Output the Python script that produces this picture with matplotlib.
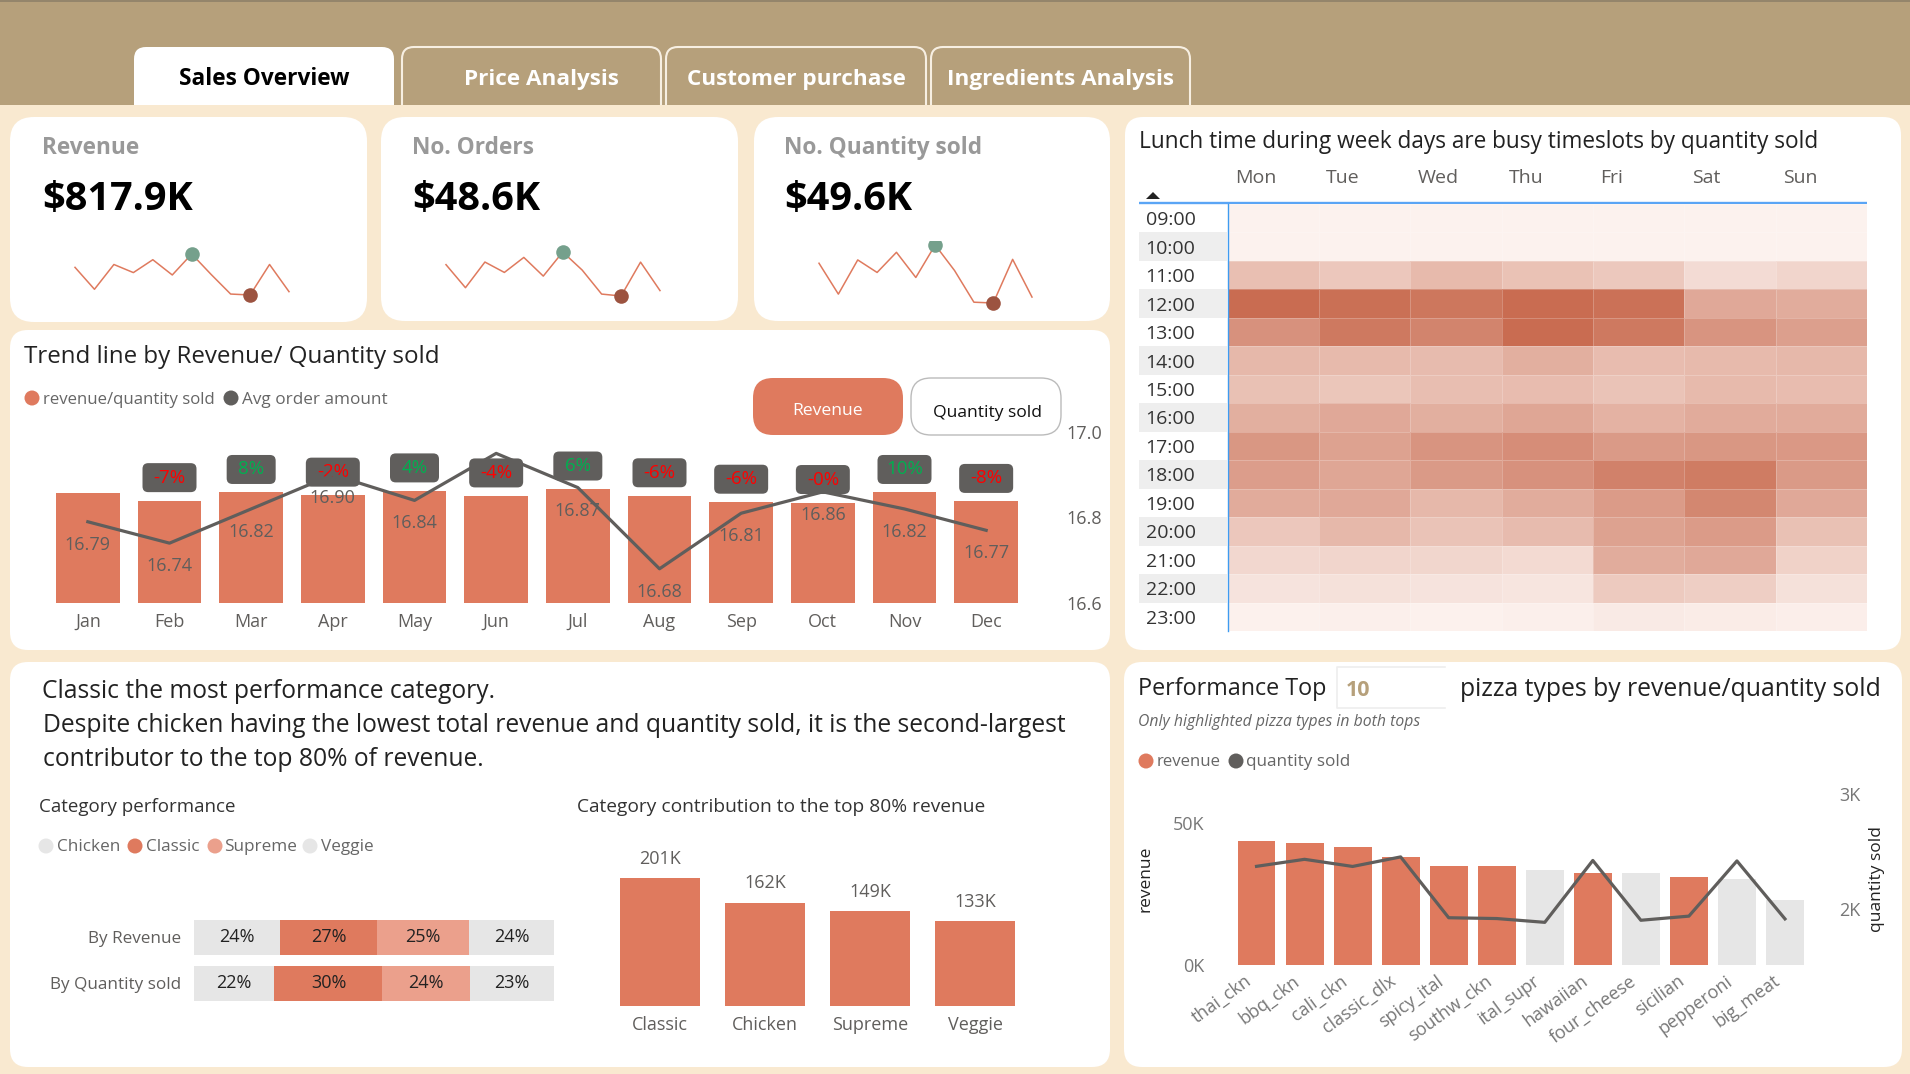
import matplotlib
matplotlib.use("Agg")
import matplotlib.pyplot as plt
from matplotlib.patches import FancyBboxPatch, Rectangle, Circle, Polygon
from matplotlib.colors import LinearSegmentedColormap
from matplotlib.transforms import Bbox, ScaledTranslation
import numpy as np

plt.rcParams['font.family'] = ['Open Sans', 'DejaVu Sans']

# ---------- data ----------
tabs = ["Sales Overview", "Price Analysis", "Customer purchase", "Ingredients Analysis"]
months = ["Jan", "Feb", "Mar", "Apr", "May", "Jun", "Jul", "Aug", "Sep", "Oct", "Nov", "Dec"]
revenue_k = [69.8, 65.2, 70.4, 68.7, 71.4, 68.2, 72.6, 68.3, 64.2, 64.0, 70.4, 64.7]
orders = [4156, 3892, 4186, 4067, 4239, 4025, 4301, 4094, 3819, 3797, 4185, 3859]
quantity = [4232, 3961, 4261, 4151, 4328, 4107, 4392, 4168, 3890, 3883, 4266, 3935]
avg_order = [16.79, 16.74, 16.82, 16.90, 16.84, 16.95, 16.87, 16.68, 16.81, 16.86, 16.82, 16.77]
avg_labels = ["16.79", "16.74", "16.82", "16.90", "16.84", "", "16.87", "16.68", "16.81", "16.86", "16.82", "16.77"]
changes = ["", "-7%", "8%", "-2%", "4%", "-4%", "6%", "-6%", "-6%", "-0%", "10%", "-8%"]

hours = ["09:00", "10:00", "11:00", "12:00", "13:00", "14:00", "15:00", "16:00",
         "17:00", "18:00", "19:00", "20:00", "21:00", "22:00", "23:00"]
days = ["Mon", "Tue", "Wed", "Thu", "Fri", "Sat", "Sun"]
heat = [
    [0, 0, 0, 0, 0, 0, 0],
    [0, 0, 0, 0, 0, 0, 0],
    [38, 32, 42, 36, 31, 17, 22],
    [100, 97, 92, 100, 96, 55, 52],
    [72, 90, 82, 100, 90, 70, 62],
    [43, 42, 41, 50, 40, 42, 43],
    [37, 33, 39, 40, 35, 42, 40],
    [50, 55, 50, 57, 48, 53, 53],
    [68, 60, 70, 75, 66, 68, 67],
    [63, 57, 66, 72, 84, 88, 66],
    [53, 55, 43, 52, 65, 80, 55],
    [32, 43, 35, 41, 60, 65, 37],
    [20, 22, 21, 18, 52, 55, 24],
    [11, 13, 11, 10, 30, 27, 13],
    [1, 2, 1, 2, 6, 5, 3],
]

stack_rows = ["By Revenue", "By Quantity sold"]
stack_cats = ["Chicken", "Classic", "Supreme", "Veggie"]
stack_revenue = [23.96, 26.91, 25.46, 23.67]
stack_quantity = [22.35, 30.0, 24.2, 23.45]

contrib_cats = ["Classic", "Chicken", "Supreme", "Veggie"]
contrib_vals = [201, 162, 149, 133]

pizza_types = ["thai_ckn", "bbq_ckn", "cali_ckn", "classic_dlx", "spicy_ital", "southw_ckn",
               "ital_supr", "hawaiian", "four_cheese", "sicilian", "pepperoni", "big_meat"]
pizza_revenue = [43.7, 42.8, 41.4, 38.2, 34.8, 34.7, 33.5, 32.3, 32.3, 30.9, 30.2, 23.0]
pizza_quantity = [2371, 2432, 2370, 2453, 1924, 1917, 1884, 2422, 1902, 1938, 2418, 1914]
pizza_highlight = [1, 1, 1, 1, 1, 1, 0, 1, 0, 1, 0, 0]

# ---------- style ----------
W, H = 1910, 1074
ORANGE = "#DF7A5E"
LIGHT_ORANGE = "#EBA08C"
GREY_BAR = "#E6E6E6"
DARK = "#605E5C"
CREAM = "#F9E9D0"
TAN = "#B6A07B"

fig = plt.figure(figsize=(W / 100, H / 100), dpi=100, facecolor=CREAM)
bg = fig.add_axes([0, 0, 1, 1])
bg.set_xlim(0, W)
bg.set_ylim(H, 0)
bg.axis("off")


def axpx(x0, y0, x1, y1):
    a = fig.add_axes([x0 / W, 1 - y1 / H, (x1 - x0) / W, (y1 - y0) / H])
    a.patch.set_alpha(0)
    for s in a.spines.values():
        s.set_visible(False)
    return a


def T(x, y, s, size=13, color=DARK, ha="left", va="center", **kw):
    return bg.text(x, y + 2, s, fontsize=size, color=color, ha=ha, va=va, **kw)


def box(x0, y0, x1, y1, r, fc="white", ec="none", lw=0):
    p = FancyBboxPatch((x0, y0), x1 - x0, y1 - y0, boxstyle=f"round,pad=0,rounding_size={r}",
                       fc=fc, ec=ec, lw=lw)
    bg.add_patch(p)
    return p


def dot(x, y, c, r=7.5):
    bg.add_patch(Circle((x, y), r, fc=c, ec="none"))


# ---------- header ----------
bg.add_patch(Rectangle((0, 0), W, 106, fc=TAN, ec="none"))
bg.add_patch(Rectangle((0, 0), W, 2, fc="#94856B", ec="none"))
tab_x = [(134, 394), (402, 661), (666, 926), (931, 1190)]
tab_text_x = [264, 541, 796, 1060]
for i, ((a, b), tx, name) in enumerate(zip(tab_x, tab_text_x, tabs)):
    if i == 0:
        box(a, 47, b, 130, 12, fc="white")
        T(tx, 77, name, size=16.3, color="black", ha="center", weight="bold")
    else:
        box(a, 47, b, 130, 12, fc="none", ec="#F7EFE2", lw=1.5)
        T(tx, 77, name, size=16.2, color="white", ha="center", weight="bold")
bg.add_patch(Rectangle((0, 105), W, H - 105, fc=CREAM, ec="none"))

# ---------- panels ----------
box(10, 117, 367, 322, 24)
box(381, 117, 738, 321, 24)
box(754, 117, 1110, 321, 24)
box(10, 330, 1110, 650, 18)
box(1125, 117, 1901, 650, 18)
box(10, 662, 1110, 1067, 18)
box(1124, 662, 1902, 1067, 18)

# ---------- KPI cards ----------
kpis = [("Revenue", "$817.9K", 42, revenue_k, (75, 254, 289, 295)),
        ("No. Orders", "$48.6K", 412, orders, (446, 252, 660, 296)),
        ("No. Quantity sold", "$49.6K", 784, quantity, (819, 245, 1032, 303))]
for label, value, tx, series, (x0, y0, x1, y1) in kpis:
    T(tx, 146, label, size=16.3, color="#999999", weight="bold")
    T(tx, 198, value, size=28.5, color="black", weight="bold")
    a = axpx(x0, y0, x1, y1)
    a.axis("off")
    a.set_xlim(0, 11)
    a.set_ylim(min(series), max(series))
    a.plot(range(12), series, color=ORANGE, lw=1.1, clip_on=False)
    hi, lo = int(np.argmax(series)), int(np.argmin(series))
    m1, = a.plot([hi], [series[hi]], "o", color="#75A08C", ms=10.5, mew=0, clip_on=True)
    m1.set_clip_box(Bbox([[0, 0], [W, H - 241]]))
    a.plot([lo], [series[lo]], "o", color="#9C5340", ms=10.5, mew=0, clip_on=False)

# ---------- trend ----------
T(24, 355, "Trend line by Revenue/ Quantity sold", size=17.35, color="#222222")
dot(32, 398, ORANGE)
T(43, 398, "revenue/quantity sold", size=12.1, color="#666666")
dot(231, 398, DARK)
T(242, 398, "Avg order amount", size=12.3, color="#666666")
box(753, 378, 903, 435, 20, fc=ORANGE)
T(828, 409, "Revenue", size=12.6, color="white", ha="center")
box(911, 378, 1061, 435, 20, fc="white", ec="#BBBBBB", lw=1.0)
T(987, 411, "Quantity sold", size=12.6, color="#111111", ha="center")

PX_PER_K = 1.57
ax = axpx(47, 432, 1027, 603)
ax.set_xlim(-0.5, 11.5)
ax.set_ylim(0, 171 / PX_PER_K)
ax.bar(range(12), revenue_k, width=0.78, color=ORANGE)
ax.set_xticks(range(12), months)
ax.set_yticks([])
ax.tick_params(axis="x", length=0, pad=7, labelsize=13, labelcolor=DARK)
for i, ch in enumerate(changes):
    if not ch:
        continue
    w = {2: 49, 3: 54, 4: 58}[len(ch)] / 81.67
    cy = revenue_k[i] + 23 / PX_PER_K
    hh = 29 / PX_PER_K
    ax.add_patch(FancyBboxPatch((i - w / 2, cy - hh / 2), w, hh,
                                boxstyle="round,pad=0,rounding_size=0.07",
                                mutation_aspect=81.67 / PX_PER_K,
                                fc=DARK, ec="none", clip_on=False, zorder=3))
    ax.text(i, cy, ch, ha="center", va="center", fontsize=13.5, zorder=4,
            color="#FF0000" if ch.startswith("-") else "#00B050")

ax2 = ax.twinx()
ax2.patch.set_alpha(0)
for s in ax2.spines.values():
    s.set_visible(False)
ax2.set_ylim(16.6, 17.0)
ax2.set_yticks([16.6, 16.8, 17.0], ["16.6", "16.8", "17.0"])
ax2.tick_params(axis="y", length=0, pad=28.5, labelsize=13, labelcolor=DARK)
ax2.plot(range(12), avg_order, color=DARK, lw=2.3, clip_on=False, zorder=5)
for i, lab in enumerate(avg_labels):
    ax2.annotate(lab, (i, avg_order[i]), xytext=(0, -16.6), textcoords="offset points",
                 ha="center", va="center", fontsize=13, color=DARK, zorder=6)

# ---------- heatmap ----------
T(1139, 140, "Lunch time during week days are busy timeslots by quantity sold", size=16.3, color="#222222")
row_h = (631 - 204) / 15
for r in range(15):
    if r % 2 == 1:
        bg.add_patch(Rectangle((1139, 204 + r * row_h), 88, row_h, fc="#EEEEEE", ec="none"))
bg.add_patch(Polygon([[1146, 199], [1160, 199], [1153, 192]], fc="#222222", ec="none"))
bg.plot([1139, 1867], [203, 203], color="#5AA5F5", lw=1.7, solid_capstyle="butt")
hm = axpx(1227.5, 204, 1867, 631)
cmap = LinearSegmentedColormap.from_list("heat", ["#FCF2EE", "#C96C51"])
hm.pcolormesh(np.array(heat), cmap=cmap, vmin=0, vmax=100,
              edgecolors=(1, 1, 1, 0.22), linewidth=0.5)
hm.set_ylim(15, 0)
hm.set_xlim(0, 7)
hm.set_xticks(np.arange(7) + 0.08, days, ha="left")
hm.set_yticks(np.arange(15) + 0.5, hours)
hm.tick_params(axis="x", top=True, labeltop=True, bottom=False, labelbottom=False,
               length=0, pad=12.5, labelsize=14, labelcolor=DARK)
hm.tick_params(axis="y", length=0, pad=59, labelsize=14, labelcolor="#333333")
for t in hm.get_yticklabels():
    t.set_ha("left")
hm.axvline(0, color="#3E9BF0", lw=1.0, clip_on=False, zorder=5)

# ---------- bottom-left ----------
T(42, 689, "Classic the most performance category.", size=17.75, color="#222222")
T(43, 723, "Despite chicken having the lowest total revenue and quantity sold, it is the second-largest",
  size=17.75, color="#222222")
T(43, 757, "contributor to the top 80% of revenue.", size=17.75, color="#222222")
T(39, 805, "Category performance", size=13.5, color="#333333")
T(577, 805, "Category contribution to the top 80% revenue", size=13.8, color="#333333")
for x, tx, c, name in zip([46, 135, 215, 310], [57, 146, 224, 321],
                          [GREY_BAR, ORANGE, LIGHT_ORANGE, GREY_BAR], stack_cats):
    dot(x, 846, c)
    T(tx, 845, name, size=12.3, color="#666666")

st = axpx(194, 914, 554, 1006)
stack_colors = [GREY_BAR, ORANGE, LIGHT_ORANGE, GREY_BAR]
for row, vals in enumerate([stack_revenue, stack_quantity]):
    left = 0
    for v, c in zip(vals, stack_colors):
        st.barh(row, v, left=left, height=35 / 46, color=c)
        st.text(left + v / 2, row, f"{v:.0f}%", ha="center", va="center", fontsize=13, color="#222222")
        left += v
st.set_xlim(0, 100)
st.set_ylim(1.5, -0.5)
st.set_xticks([])
st.set_yticks([0, 1], stack_rows)
st.tick_params(axis="y", length=0, pad=9.5, labelsize=12.3, labelcolor=DARK)

PX_PER_CK = 0.637
co = axpx(607.5, 838, 1027.5, 1006)
co.bar(range(4), contrib_vals, width=0.762, color=ORANGE)
co.set_xlim(-0.5, 3.5)
co.set_ylim(0, 168 / PX_PER_CK)
co.set_yticks([])
co.set_xticks(range(4), contrib_cats)
co.tick_params(axis="x", length=0, pad=7, labelsize=13, labelcolor=DARK)
for i, v in enumerate(contrib_vals):
    co.annotate(f"{v}K", (i, v), xytext=(0, 14), textcoords="offset points",
                ha="center", va="center", fontsize=13, color=DARK)

# ---------- bottom-right ----------
T(1138, 687, "Performance Top", size=16.85, color="#222222")
bg.plot([1445, 1337, 1337, 1445], [667, 667, 708, 708], color="#EEEEEE", lw=1.2)
T(1346, 688, "10", size=15.5, color=TAN, weight="bold")
T(1460, 688, "pizza types by revenue/quantity sold", size=17.8, color="#222222")
T(1138, 720, "Only highlighted pizza types in both tops", size=11.35, color="#666666", style="italic")
dot(1146, 761, ORANGE)
T(1157, 760, "revenue", size=12.1, color="#666666")
dot(1236, 761, DARK)
T(1246, 760, "quantity sold", size=12.3, color="#666666")
T(1145, 877, "revenue", size=12.5, color="#222222", rotation=90, ha="center")
T(1877, 877, "quantity sold", size=12.5, color="#222222", rotation=90, ha="center")

px = axpx(1232.5, 794, 1809, 965)
px.bar(range(12), pizza_revenue, width=0.79,
       color=[ORANGE if h else GREY_BAR for h in pizza_highlight])
px.set_xlim(-0.5, 11.5)
px.set_ylim(0, 171 / 2.84)
px.set_yticks([0, 50], ["0K", "50K"])
px.set_xticks(range(12), pizza_types, rotation=36, ha="right", rotation_mode="anchor")
px.tick_params(axis="y", length=0, pad=20, labelsize=13, labelcolor="#777777")
px.tick_params(axis="x", length=0, pad=5, labelsize=13, labelcolor="#777777")
shift = ScaledTranslation(-12 / 100, 0, fig.dpi_scale_trans)
for t in px.get_xticklabels():
    t.set_transform(t.get_transform() + shift)
px2 = px.twinx()
px2.patch.set_alpha(0)
for s in px2.spines.values():
    s.set_visible(False)
px2.set_ylim(2000 - 56 / 115 * 1000, 3000)
px2.set_yticks([2000, 3000], ["2K", "3K"])
px2.tick_params(axis="y", length=0, pad=21.5, labelsize=13, labelcolor="#777777")
px2.plot(range(12), pizza_quantity, color=DARK, lw=2.3)

fig.savefig("out.png", dpi=100, facecolor=CREAM)
